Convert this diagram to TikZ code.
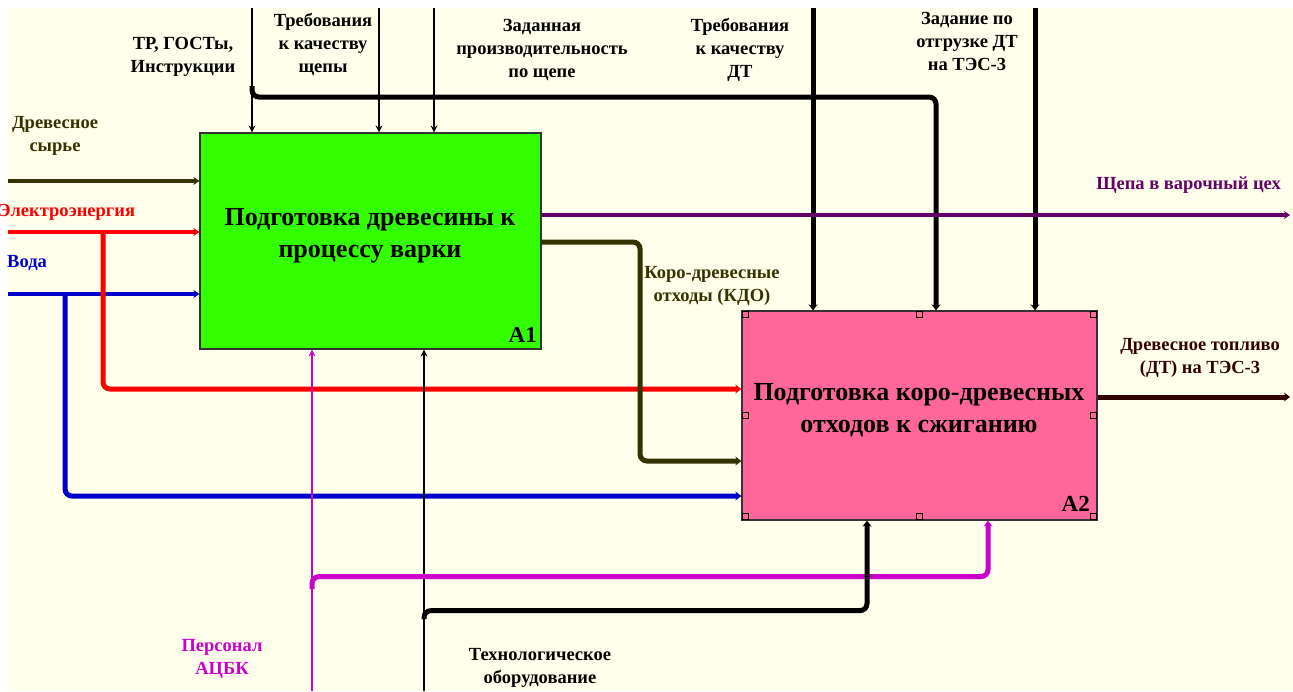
\documentclass[tikz,border=0pt]{standalone}
\usepackage{fontspec}
\setmainfont{Liberation Serif}
\usetikzlibrary{arrows.meta,calc}
\definecolor{bg}{HTML}{FFFFEC}
\definecolor{boxgreen}{HTML}{33FF00}
\definecolor{boxpink}{HTML}{FF6699}
\definecolor{olivec}{HTML}{333300}
\definecolor{elred}{HTML}{FF0000}
\definecolor{wblue}{HTML}{0000CC}
\definecolor{chipc}{HTML}{660066}
\definecolor{persc}{HTML}{CC00CC}
\definecolor{fuelc}{HTML}{330000}
\begin{document}
\begin{tikzpicture}[x=1pt,y=-1pt,
  func/.style={draw=black!80, line width=1.2pt, inner sep=0pt},
  boxtxt/.style={font=\fontsize{26}{32}\selectfont\bfseries, align=center, inner sep=0pt},
  numtxt/.style={font=\fontsize{23}{26}\selectfont\bfseries, inner sep=0pt},
  lbl/.style={font=\fontsize{18.5}{23}\selectfont\bfseries, align=center, inner sep=0pt},
  thinln/.style={line width=2.4pt, -{Stealth[length=7pt,width=7pt]}},
  thickln/.style={line width=5pt, -{Stealth[length=6pt,width=9pt]}},
  midln/.style={line width=4pt, -{Stealth[length=6pt,width=8pt]}},
  handle/.style={draw=black, line width=0.8pt}
]
\useasboundingbox (0,0) rectangle (1293,691);
\fill[white] (0,0) rectangle (1293,691);
\fill[bg] (7,8) rectangle (1293,691);

% function boxes
\node[func, fill=boxgreen, minimum width=341pt, minimum height=216pt] (A1) at (370.5,241) {};
\node[func, fill=boxpink, minimum width=355pt, minimum height=209pt] (A2) at (919.5,415.5) {};

% handles on A2
\foreach \a/\dx/\dy in {north west/1/1, north/-3/1, north east/-7/1, west/1/-3, east/-7/-3, south west/1/-7, south/-3/-7, south east/-7/-7}{
  \draw[handle] ($(A2.\a)+(\dx,\dy)$) rectangle ++(6,6);
}

% free ends
\coordinate (c1) at (252,8);
\coordinate (c2) at (379,8);
\coordinate (c3) at (434,8);
\coordinate (c4) at (813,8);
\coordinate (c6) at (1035,8);
\coordinate (j1) at (252,86);
\coordinate (c5) at (936,97);
\coordinate (i1) at (8,181);
\coordinate (i2) at (8,232);
\coordinate (i3) at (8,294);
\coordinate (e1) at (103,232);
\coordinate (w1) at (65,294);
\coordinate (o1) at (1290,215);
\coordinate (o2) at (1290,397);
\coordinate (kd) at (640,242);
\coordinate (m0) at (312,691);
\coordinate (m1) at (312,589);
\coordinate (k0) at (424,691);
\coordinate (k1) at (424,619);

% controls
\draw[thinln] (c1) -- (c1 |- A1.north);
\draw[thinln] (c2) -- (c2 |- A1.north);
\draw[thinln] (c3) -- (c3 |- A1.north);
\draw[line width=5pt, rounded corners=7pt, -{Stealth[length=6pt,width=9pt]}] (j1) |- (c5) -- (c5 |- A2.north);
\draw[thickln] (c4) -- (c4 |- A2.north);
\draw[thickln] (c6) -- (c6 |- A2.north);

% inputs
\draw[midln, olivec] (i1) -- (i1 -| A1.west);
\draw[midln, elred] (i2) -- (i2 -| A1.west);
\draw[midln, wblue] (i3) -- (i3 -| A1.west);
\draw[line width=5pt, elred, rounded corners=7pt, -{Stealth[length=6pt,width=9pt]}] (e1) |- ($(A2.west)+(0,-26.5)$);
\draw[line width=5pt, wblue, rounded corners=7pt, -{Stealth[length=6pt,width=9pt]}] (w1) |- ($(A2.west)+(0,80.5)$);

% outputs
\draw[midln, chipc] ($(A1.east)+(0,-26)$) -- (o1);
\draw[line width=5pt, olivec, rounded corners=7pt, -{Stealth[length=6pt,width=9pt]}] ($(A1.east)+(0,1)$) -- (kd) |- ($(A2.west)+(0,45.5)$);
\draw[thickln, fuelc] ($(A2.east)+(0,-18.5)$) -- (o2);

% mechanisms
\draw[thinln, persc] (m0) -- (m0 |- A1.south);
\draw[thinln, black] (k0) -- (k0 |- A1.south);
\draw[line width=5pt, persc, rounded corners=7pt, -{Stealth[length=6pt,width=9pt]}] (m1) |- ($(A2.south)+(68.5,56)$) -- ($(A2.south)+(68.5,0)$);
\draw[line width=5pt, black, rounded corners=7pt, -{Stealth[length=6pt,width=9pt]}] (k1) |- ($(A2.south)+(-52.5,90)$) -- ($(A2.south)+(-52.5,0)$);

% box texts
\node[boxtxt] (A1t) at (370,236) {Подготовка древесины к\\процессу варки};
\node[boxtxt] (A2t) at (919,410) {Подготовка коро-древесных\\отходов к сжиганию};
\node[numtxt, anchor=base east] (A1n) at (537,342) {A1};
\node[numtxt, anchor=base east] (A2n) at (1090,511) {A2};

% labels
\node[lbl] (l1) at (183,57) {ТР, ГОСТы,\\Инструкции};
\node[lbl] (l2) at (323,44) {Требования\\к качеству\\щепы};
\node[lbl] (l3) at (542,50) {Заданная\\производительность\\по щепе};
\node[lbl] (l4) at (740,50) {Требования\\к качеству\\ДТ};
\node[lbl] (l5) at (967,41) {Задание по\\отгрузке ДТ\\на ТЭС-3};
\node[lbl, olivec] (l6) at (55,136) {Древесное\\сырье};
\node[lbl, elred, anchor=west] (l7) at (-2,212) {Электроэнергия};
\node[lbl, wblue, anchor=west] (l8) at (7,263) {Вода};
\node[lbl, chipc, anchor=east] (l9) at (1281,185) {Щепа в варочный цех};
\node[lbl, olivec] (l10) at (712,286) {Коро-древесные\\отходы (КДО)};
\node[lbl, fuelc] (l11) at (1200,358) {Древесное топливо\\(ДТ) на ТЭС-3};
\node[lbl, persc] (l12) at (222,659) {Персонал\\АЦБК};
\node[lbl] (l13) at (540,668) {Технологическое\\оборудование};
\end{tikzpicture}
\end{document}
